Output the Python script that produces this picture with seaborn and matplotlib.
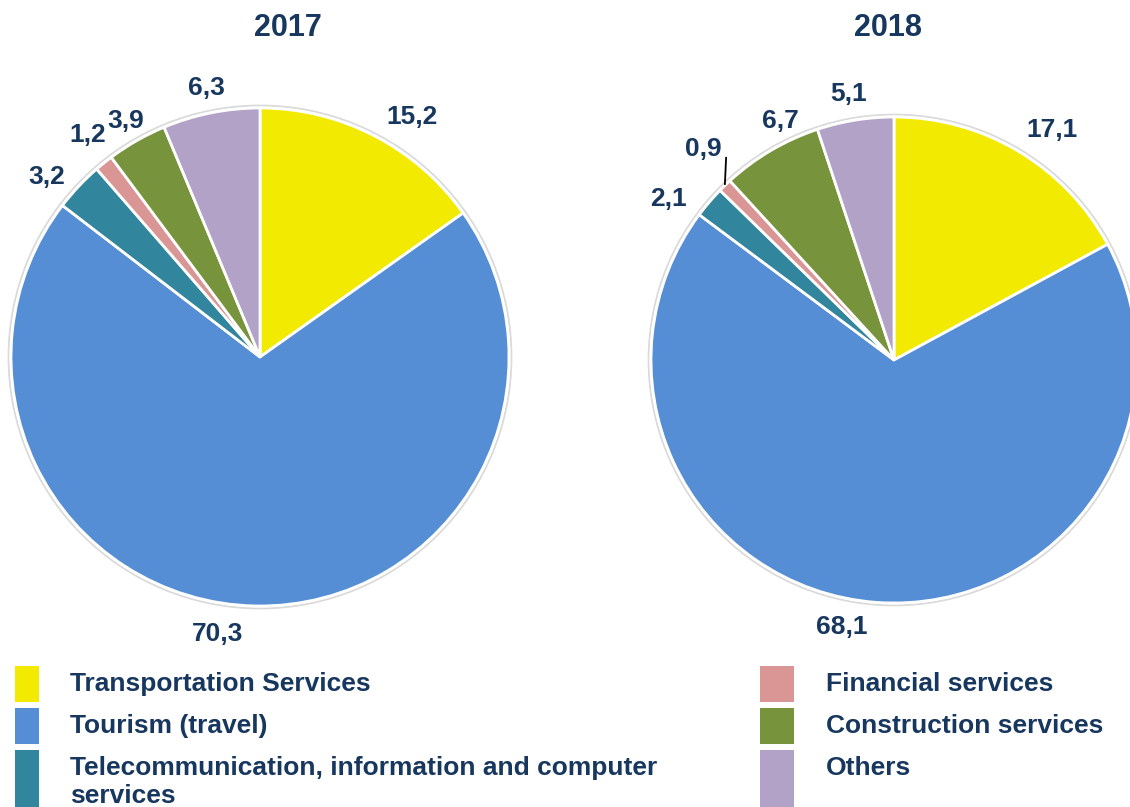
import matplotlib
matplotlib.use("Agg")
import matplotlib.pyplot as plt
from matplotlib.patches import Rectangle, Circle
import seaborn as sns
import numpy as np

# ---- data ----
categories = ["Transportation Services", "Tourism (travel)",
              "Telecommunication, information and computer\nservices",
              "Financial services", "Construction services", "Others"]
values_2017 = [15.2, 70.3, 3.2, 1.2, 3.9, 6.3]
values_2018 = [17.1, 68.1, 2.1, 0.9, 6.7, 5.1]
labels_2017 = ["15,2", "70,3", "3,2", "1,2", "3,9", "6,3"]
labels_2018 = ["17,1", "68,1", "2,1", "0,9", "6,7", "5,1"]
years = ["2017", "2018"]

# ---- style ----
colors = ["#F2EA00", "#558ED5", "#31859C", "#D99694", "#77933C", "#B3A2C7"]
NAVY = "#17375E"
sns.set_theme(style="white")
plt.rcParams["font.family"] = ["Liberation Sans", "DejaVu Sans"]

W, H = 1130, 807
fig = plt.figure(figsize=(W / 100, H / 100), dpi=100)
PAD = 1.1  # axes half-extent in pie-radius units

def pie_axes(cx, cy, r):
    R = r * PAD
    return fig.add_axes([(cx - R) / W, (H - cy - R) / H, 2 * R / W, 2 * R / H])

# label layout tweaks (angle shift in deg, radial distance)
shift_2017 = [(-5, 1.14), (-7.6, 1.125), (3, 1.12), (-1, 1.13), (0, 1.09), (0, 1.10)]
shift_2018 = [(-3.7, 1.15), (-7, 1.12), (5, 1.14), (-2, 1.17), (-5, 1.09), (0.5, 1.11)]

def draw_pie(ax, vals, labs, shifts, leader_idx=None):
    ax.add_patch(Circle((0, 0), 1.01, facecolor="none", edgecolor="#dadada",
                        lw=1.3, zorder=0, clip_on=False))
    wedges, _ = ax.pie(vals, colors=colors, startangle=90, counterclock=False,
                       radius=1.0,
                       wedgeprops=dict(edgecolor="white", linewidth=2))
    for w in wedges:
        w.set_clip_on(False)
    for i, (w, lab) in enumerate(zip(wedges, labs)):
        mid = np.deg2rad((w.theta1 + w.theta2) / 2)
        a = mid + np.deg2rad(shifts[i][0])
        d = shifts[i][1]
        ax.text(d * np.cos(a), d * np.sin(a), lab, ha="center", va="center",
                fontsize=19, fontweight="bold", color=NAVY, clip_on=False)
        if leader_idx is not None and i == leader_idx:
            x0, y0 = np.cos(mid), np.sin(mid)
            ax.plot([x0, x0 + 0.005], [y0 + 0.005, y0 + 0.115], color="black",
                    lw=1.3, clip_on=False)
    ax.set_xlim(-PAD, PAD)
    ax.set_ylim(-PAD, PAD)
    ax.set_aspect("equal")
    ax.axis("off")

ax1 = pie_axes(260, 357, 249)
draw_pie(ax1, values_2017, labels_2017, shift_2017)
ax2 = pie_axes(894, 360, 243)
draw_pie(ax2, values_2018, labels_2018, shift_2018, leader_idx=3)

fig.text(288 / W, 1 - 28 / H, years[0], ha="center", va="center",
         fontsize=22, fontweight="bold", color=NAVY)
fig.text(888 / W, 1 - 28 / H, years[1], ha="center", va="center",
         fontsize=22, fontweight="bold", color=NAVY)

# ---- legend ----
rows_top = [666, 708, 750]
rows_h = [36, 36, 60]
col_sq = [(15, 24), (760, 34)]
col_tx = [70, 826]
for k, (cat, col) in enumerate(zip(categories, colors)):
    c, r = divmod(k, 3)
    sx, sw = col_sq[c]
    fig.add_artist(Rectangle((sx / W, (H - rows_top[r] - rows_h[r]) / H),
                             sw / W, rows_h[r] / H, transform=fig.transFigure,
                             facecolor=col, edgecolor="none"))
    fig.text(col_tx[c] / W, 1 - (rows_top[r] + 6) / H, cat, ha="left", va="top",
             fontsize=19, fontweight="bold", color=NAVY, linespacing=1.2)

fig.savefig("out.png", dpi=100)
